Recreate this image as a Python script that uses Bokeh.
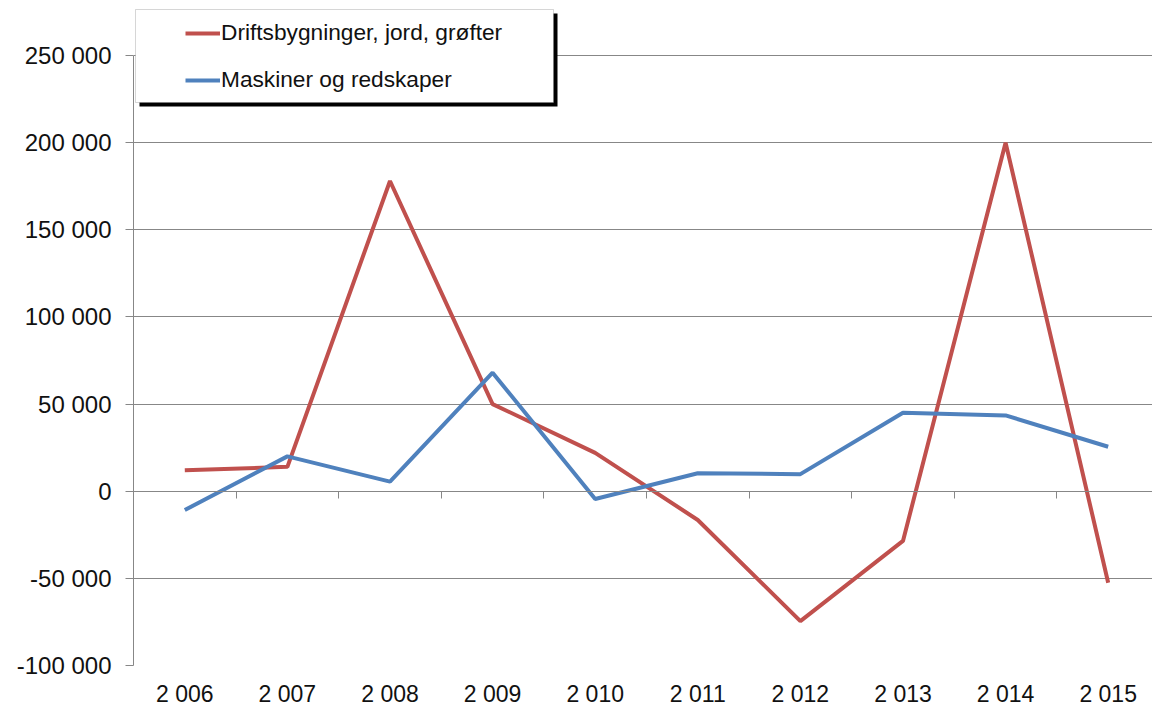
from bokeh.plotting import figure
from bokeh.models import (FixedTicker, LinearAxis, Range1d, Legend, LegendItem,
                          BoxAnnotation)
from bokeh.embed import file_html
from bokeh.resources import INLINE

years = ["2 006", "2 007", "2 008", "2 009", "2 010", "2 011", "2 012", "2 013", "2 014", "2 015"]
drift = [12000, 14000, 178000, 50000, 22000, -16500, -74500, -28500, 200000, -52500]
maskin = [-10800, 20000, 5500, 68000, -4500, 10300, 9800, 45000, 43500, 25500]
y_ticks = [-100000, -50000, 0, 50000, 100000, 150000, 200000, 250000]
y_labels = ["-100 000", "-50 000", "0", "50 000", "100 000", "150 000", "200 000", "250 000"]
series_names = ["Driftsbygninger, jord, grøfter", "Maskiner og redskaper"]

FONT = "Liberation Sans"
GRID = "#878787"

x = list(range(len(years)))

# frame spans y 8..665; value 250 000 sits at y=55, -100 000 at y=665
y_top = 250000 + 47 * (350000 / 610)

p = figure(frame_width=1019, frame_height=657, output_backend="svg", toolbar_location=None,
           x_range=Range1d(-0.5, 9.432), y_range=Range1d(-100000, y_top),
           min_border_left=133, min_border_right=0, min_border_top=8, min_border_bottom=0)
p.outline_line_color = None
p.background_fill_color = "white"
p.border_fill_color = "white"

# y axis
p.yaxis.ticker = FixedTicker(ticks=y_ticks)
p.yaxis.bounds = (-100000, 250000)
p.yaxis.major_label_overrides = {t: l for t, l in zip(y_ticks, y_labels)}
p.yaxis.major_label_text_font = FONT
p.yaxis.major_label_text_font_size = "24px"
p.yaxis.major_label_text_color = "#111111"
p.yaxis.axis_line_color = GRID
p.yaxis.major_tick_line_color = GRID
p.yaxis.major_tick_out = 8
p.yaxis.major_tick_in = 0
p.yaxis.minor_tick_line_color = None
p.yaxis.major_label_standoff = 14

# grid
p.xgrid.grid_line_color = None
p.ygrid.ticker = FixedTicker(ticks=y_ticks)
p.ygrid.grid_line_color = GRID
p.ygrid.grid_line_width = 1

# bottom axis: labels only
p.xaxis.ticker = FixedTicker(ticks=x)
p.xaxis.major_label_overrides = {i: l for i, l in zip(x, years)}
p.xaxis.major_label_text_font = FONT
p.xaxis.major_label_text_font_size = "23px"
p.xaxis.major_label_text_color = "#111111"
p.xaxis.axis_line_color = None
p.xaxis.major_tick_line_color = None
p.xaxis.major_tick_out = 0
p.xaxis.major_tick_in = 0
p.xaxis.minor_tick_line_color = None
p.xaxis.minor_tick_out = 0
p.xaxis.minor_tick_in = 0
p.xaxis.major_label_standoff = 15

# zero-line axis with ticks between categories
zero_axis = LinearAxis(fixed_location=0,
                       ticker=FixedTicker(ticks=[i + 0.5 for i in x]),
                       axis_line_color=GRID, major_tick_line_color=GRID,
                       major_tick_out=7, major_tick_in=0,
                       minor_tick_line_color=None,
                       major_label_text_font_size="0px",
                       major_label_text_color=None)
p.add_layout(zero_axis, "below")

r1 = p.line(x, drift, line_color="#C0504D", line_width=4)
r2 = p.line(x, maskin, line_color="#4F81BD", line_width=4)

# legend frame with shadow (screen units, from frame bottom-left)
shadow = BoxAnnotation(left=6, right=424, top=652, bottom=559,
                       left_units="screen", right_units="screen",
                       top_units="screen", bottom_units="screen",
                       fill_color="black", fill_alpha=1, line_color=None)
box = BoxAnnotation(left=2, right=420, top=656, bottom=563,
                    left_units="screen", right_units="screen",
                    top_units="screen", bottom_units="screen",
                    fill_color="white", fill_alpha=1, line_color="#777777", line_width=1)
p.add_layout(shadow)
p.add_layout(box)

legend = Legend(items=[LegendItem(label=series_names[0], renderers=[r1]),
                       LegendItem(label=series_names[1], renderers=[r2])],
                location=(52, 572), orientation="vertical",
                border_line_color=None, background_fill_alpha=0,
                padding=0, margin=0, spacing=20,
                glyph_width=35, glyph_height=24, label_height=24,
                label_standoff=1,
                label_text_font=FONT, label_text_font_size="22.7px",
                label_text_color="#111111")
p.add_layout(legend)

open("out.html", "w").write(file_html(p, INLINE))
